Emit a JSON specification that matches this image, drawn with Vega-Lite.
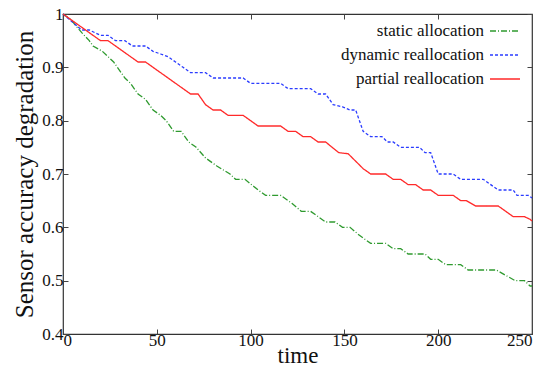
{
  "$schema": "https://vega.github.io/schema/vega-lite/v6.json",
  "width": 469,
  "height": 320,
  "autosize": {"type": "none"},
  "padding": {"left": 63, "top": 14, "right": 20, "bottom": 40},
  "background": "white",
  "config": {
    "font": "Liberation Serif",
    "style": {"guide-label": {"font": "Liberation Serif", "fontSize": 17, "fill": "#111111"}},
    "view": {"stroke": "#333333", "strokeWidth": 1.2},
    "axis": {
      "grid": false,
      "domain": false,
      "tickColor": "#444444",
      "tickSize": -5,
      "tickWidth": 1,
      "titleFont": "Liberation Serif",
      "titleFontWeight": "normal",
      "titleColor": "#111111"
    }
  },
  "data": {
    "values": [
      {"s": "static allocation", "t": 0, "v": 1},
      {"s": "static allocation", "t": 4, "v": 0.99},
      {"s": "static allocation", "t": 10, "v": 0.965},
      {"s": "static allocation", "t": 14, "v": 0.95},
      {"s": "static allocation", "t": 16, "v": 0.94},
      {"s": "static allocation", "t": 21, "v": 0.93},
      {"s": "static allocation", "t": 27, "v": 0.91},
      {"s": "static allocation", "t": 33, "v": 0.88},
      {"s": "static allocation", "t": 36, "v": 0.87},
      {"s": "static allocation", "t": 40, "v": 0.85},
      {"s": "static allocation", "t": 44, "v": 0.84},
      {"s": "static allocation", "t": 48, "v": 0.82},
      {"s": "static allocation", "t": 52, "v": 0.81},
      {"s": "static allocation", "t": 55, "v": 0.8},
      {"s": "static allocation", "t": 59, "v": 0.78},
      {"s": "static allocation", "t": 63, "v": 0.78},
      {"s": "static allocation", "t": 67, "v": 0.76},
      {"s": "static allocation", "t": 71, "v": 0.75},
      {"s": "static allocation", "t": 76, "v": 0.73},
      {"s": "static allocation", "t": 82, "v": 0.715},
      {"s": "static allocation", "t": 89, "v": 0.7},
      {"s": "static allocation", "t": 92, "v": 0.69},
      {"s": "static allocation", "t": 97, "v": 0.69},
      {"s": "static allocation", "t": 104, "v": 0.67},
      {"s": "static allocation", "t": 108, "v": 0.66},
      {"s": "static allocation", "t": 116, "v": 0.66},
      {"s": "static allocation", "t": 122, "v": 0.645},
      {"s": "static allocation", "t": 127, "v": 0.63},
      {"s": "static allocation", "t": 132, "v": 0.63},
      {"s": "static allocation", "t": 140, "v": 0.61},
      {"s": "static allocation", "t": 145, "v": 0.61},
      {"s": "static allocation", "t": 149, "v": 0.6},
      {"s": "static allocation", "t": 153, "v": 0.6},
      {"s": "static allocation", "t": 158, "v": 0.585},
      {"s": "static allocation", "t": 164, "v": 0.57},
      {"s": "static allocation", "t": 172, "v": 0.57},
      {"s": "static allocation", "t": 176, "v": 0.56},
      {"s": "static allocation", "t": 180, "v": 0.56},
      {"s": "static allocation", "t": 184, "v": 0.55},
      {"s": "static allocation", "t": 193, "v": 0.55},
      {"s": "static allocation", "t": 196, "v": 0.54},
      {"s": "static allocation", "t": 200, "v": 0.54},
      {"s": "static allocation", "t": 204, "v": 0.53},
      {"s": "static allocation", "t": 212, "v": 0.53},
      {"s": "static allocation", "t": 216, "v": 0.52},
      {"s": "static allocation", "t": 231, "v": 0.52},
      {"s": "static allocation", "t": 236, "v": 0.51},
      {"s": "static allocation", "t": 241, "v": 0.5},
      {"s": "static allocation", "t": 246, "v": 0.5},
      {"s": "static allocation", "t": 249, "v": 0.49},
      {"s": "static allocation", "t": 250, "v": 0.49},
      {"s": "dynamic reallocation", "t": 0, "v": 1},
      {"s": "dynamic reallocation", "t": 10, "v": 0.97},
      {"s": "dynamic reallocation", "t": 14, "v": 0.97},
      {"s": "dynamic reallocation", "t": 20, "v": 0.96},
      {"s": "dynamic reallocation", "t": 24, "v": 0.96},
      {"s": "dynamic reallocation", "t": 28, "v": 0.95},
      {"s": "dynamic reallocation", "t": 33, "v": 0.95},
      {"s": "dynamic reallocation", "t": 37, "v": 0.94},
      {"s": "dynamic reallocation", "t": 44, "v": 0.94},
      {"s": "dynamic reallocation", "t": 48, "v": 0.93},
      {"s": "dynamic reallocation", "t": 52, "v": 0.925},
      {"s": "dynamic reallocation", "t": 56, "v": 0.92},
      {"s": "dynamic reallocation", "t": 60, "v": 0.91},
      {"s": "dynamic reallocation", "t": 64, "v": 0.9},
      {"s": "dynamic reallocation", "t": 68, "v": 0.89},
      {"s": "dynamic reallocation", "t": 76, "v": 0.89},
      {"s": "dynamic reallocation", "t": 80, "v": 0.88},
      {"s": "dynamic reallocation", "t": 96, "v": 0.88},
      {"s": "dynamic reallocation", "t": 100, "v": 0.87},
      {"s": "dynamic reallocation", "t": 116, "v": 0.87},
      {"s": "dynamic reallocation", "t": 120, "v": 0.86},
      {"s": "dynamic reallocation", "t": 132, "v": 0.86},
      {"s": "dynamic reallocation", "t": 136, "v": 0.85},
      {"s": "dynamic reallocation", "t": 140, "v": 0.85},
      {"s": "dynamic reallocation", "t": 144, "v": 0.83},
      {"s": "dynamic reallocation", "t": 149, "v": 0.826},
      {"s": "dynamic reallocation", "t": 153, "v": 0.82},
      {"s": "dynamic reallocation", "t": 156, "v": 0.82},
      {"s": "dynamic reallocation", "t": 160, "v": 0.78},
      {"s": "dynamic reallocation", "t": 164, "v": 0.77},
      {"s": "dynamic reallocation", "t": 170, "v": 0.77},
      {"s": "dynamic reallocation", "t": 173, "v": 0.76},
      {"s": "dynamic reallocation", "t": 176, "v": 0.76},
      {"s": "dynamic reallocation", "t": 180, "v": 0.75},
      {"s": "dynamic reallocation", "t": 190, "v": 0.75},
      {"s": "dynamic reallocation", "t": 193, "v": 0.74},
      {"s": "dynamic reallocation", "t": 196, "v": 0.74},
      {"s": "dynamic reallocation", "t": 200, "v": 0.7},
      {"s": "dynamic reallocation", "t": 208, "v": 0.7},
      {"s": "dynamic reallocation", "t": 212, "v": 0.69},
      {"s": "dynamic reallocation", "t": 224, "v": 0.69},
      {"s": "dynamic reallocation", "t": 232, "v": 0.67},
      {"s": "dynamic reallocation", "t": 240, "v": 0.67},
      {"s": "dynamic reallocation", "t": 242, "v": 0.66},
      {"s": "dynamic reallocation", "t": 248, "v": 0.66},
      {"s": "dynamic reallocation", "t": 250, "v": 0.655},
      {"s": "partial reallocation", "t": 0, "v": 1},
      {"s": "partial reallocation", "t": 20, "v": 0.95},
      {"s": "partial reallocation", "t": 24, "v": 0.95},
      {"s": "partial reallocation", "t": 40, "v": 0.91},
      {"s": "partial reallocation", "t": 44, "v": 0.91},
      {"s": "partial reallocation", "t": 68, "v": 0.85},
      {"s": "partial reallocation", "t": 72, "v": 0.85},
      {"s": "partial reallocation", "t": 76, "v": 0.83},
      {"s": "partial reallocation", "t": 80, "v": 0.82},
      {"s": "partial reallocation", "t": 84, "v": 0.82},
      {"s": "partial reallocation", "t": 88, "v": 0.81},
      {"s": "partial reallocation", "t": 96, "v": 0.81},
      {"s": "partial reallocation", "t": 104, "v": 0.79},
      {"s": "partial reallocation", "t": 116, "v": 0.79},
      {"s": "partial reallocation", "t": 120, "v": 0.78},
      {"s": "partial reallocation", "t": 124, "v": 0.78},
      {"s": "partial reallocation", "t": 128, "v": 0.77},
      {"s": "partial reallocation", "t": 132, "v": 0.77},
      {"s": "partial reallocation", "t": 136, "v": 0.76},
      {"s": "partial reallocation", "t": 140, "v": 0.76},
      {"s": "partial reallocation", "t": 147, "v": 0.74},
      {"s": "partial reallocation", "t": 152, "v": 0.738},
      {"s": "partial reallocation", "t": 160, "v": 0.71},
      {"s": "partial reallocation", "t": 164, "v": 0.7},
      {"s": "partial reallocation", "t": 172, "v": 0.7},
      {"s": "partial reallocation", "t": 176, "v": 0.69},
      {"s": "partial reallocation", "t": 180, "v": 0.69},
      {"s": "partial reallocation", "t": 184, "v": 0.68},
      {"s": "partial reallocation", "t": 188, "v": 0.68},
      {"s": "partial reallocation", "t": 192, "v": 0.67},
      {"s": "partial reallocation", "t": 196, "v": 0.67},
      {"s": "partial reallocation", "t": 200, "v": 0.66},
      {"s": "partial reallocation", "t": 208, "v": 0.66},
      {"s": "partial reallocation", "t": 212, "v": 0.65},
      {"s": "partial reallocation", "t": 215, "v": 0.65},
      {"s": "partial reallocation", "t": 220, "v": 0.64},
      {"s": "partial reallocation", "t": 232, "v": 0.64},
      {"s": "partial reallocation", "t": 240, "v": 0.62},
      {"s": "partial reallocation", "t": 246, "v": 0.62},
      {"s": "partial reallocation", "t": 249, "v": 0.615},
      {"s": "partial reallocation", "t": 250, "v": 0.612}
    ]
  },
  "layer": [
    {
      "mark": {"type": "line", "strokeWidth": 1.3},
      "encoding": {
        "x": {
          "field": "t", "type": "quantitative",
          "scale": {"domain": [0, 250], "nice": false, "zero": false},
          "axis": {"orient": "bottom", "values": [0, 50, 100, 150, 200, 250], "title": "time",
                   "labelPadding": 3, "titleFontSize": 23, "titlePadding": -4}
        },
        "y": {
          "field": "v", "type": "quantitative",
          "scale": {"domain": [0.4, 1], "nice": false, "zero": false},
          "axis": {"orient": "left", "values": [0.4, 0.5, 0.6, 0.7, 0.8, 0.9, 1], "format": "~g",
                   "title": "Sensor accuracy degradation",
                   "labelPadding": 5, "titleFontSize": 25, "titlePadding": 4}
        },
        "color": {
          "field": "s", "type": "nominal",
          "scale": {
            "domain": ["static allocation", "dynamic reallocation", "partial reallocation"],
            "range": ["#2f9a2f", "#2b3cff", "#ff2a2a"]
          },
          "legend": {
            "orient": "none", "legendX": 426, "legendY": 1,
            "title": null,
            "labelAlign": "right", "labelOffset": -37,
            "symbolType": "stroke", "symbolSize": 900, "symbolStrokeWidth": 1.3,
            "rowPadding": -15, "padding": 0
          }
        },
        "strokeDash": {
          "field": "s", "type": "nominal",
          "scale": {
            "domain": ["static allocation", "dynamic reallocation", "partial reallocation"],
            "range": [[6, 2, 1, 2], [3, 2], [1, 0]]
          },
          "legend": {
            "orient": "none", "legendX": 426, "legendY": 1,
            "title": null,
            "labelAlign": "right", "labelOffset": -37,
            "symbolType": "stroke", "symbolSize": 900, "symbolStrokeWidth": 1.3,
            "rowPadding": -15, "padding": 0
          }
        }
      }
    },
    {
      "mark": {"type": "line", "opacity": 0},
      "encoding": {
        "x": {
          "field": "t", "type": "quantitative",
          "scale": {"domain": [0, 250], "nice": false, "zero": false},
          "axis": {"orient": "top", "values": [0, 50, 100, 150, 200, 250], "labels": false, "title": null}
        },
        "y": {
          "field": "v", "type": "quantitative",
          "scale": {"domain": [0.4, 1], "nice": false, "zero": false},
          "axis": {"orient": "right", "values": [0.4, 0.5, 0.6, 0.7, 0.8, 0.9, 1], "labels": false, "title": null}
        },
        "detail": {"field": "s", "type": "nominal"}
      }
    }
  ],
  "resolve": {"axis": {"x": "independent", "y": "independent"}}
}
